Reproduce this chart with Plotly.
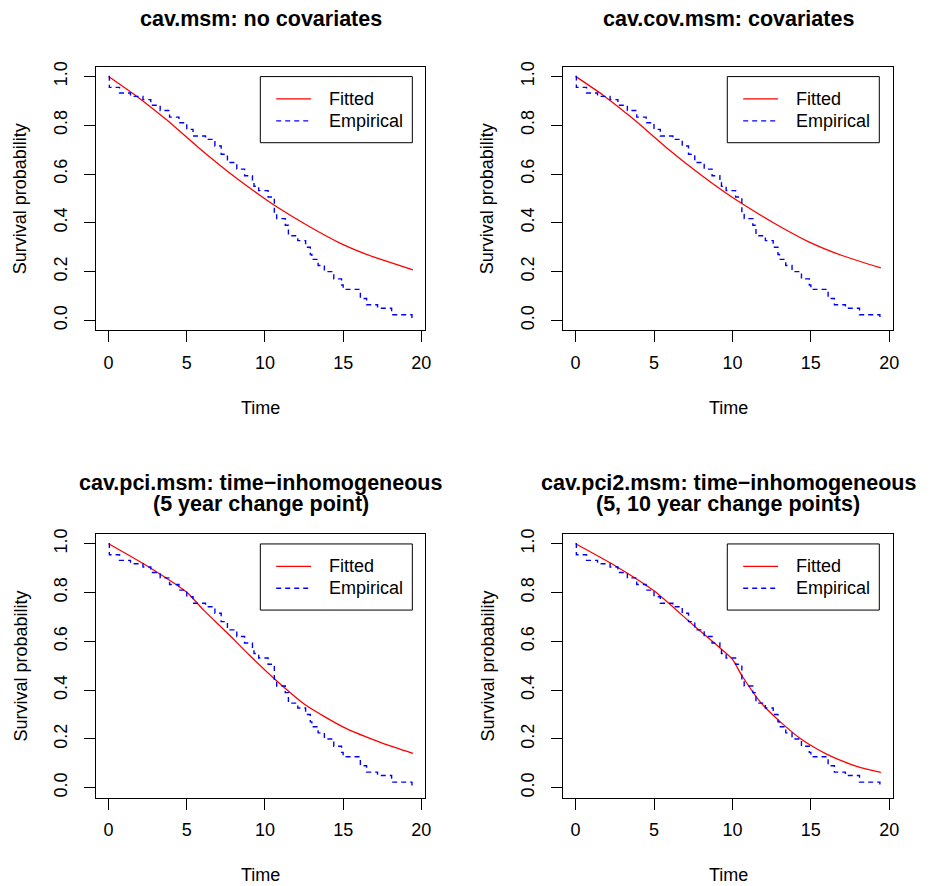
import plotly.graph_objects as go

W, H = 932, 886
FONT = "Liberation Sans, Arial, Helvetica, sans-serif"

# ---------------- data ----------------
# Empirical (Kaplan-Meier style) survival, shared by all panels
emp_time = [0.0, 0.05, 0.7, 1.4, 2.2, 2.7, 3.3, 3.9, 4.5, 5.0, 5.4, 6.2, 6.8, 7.2,
            7.6, 8.2, 8.7, 9.2, 9.3, 9.6, 10.2, 10.6, 10.75, 11.3, 11.5, 12.1,
            12.6, 12.9, 13.0, 13.4, 13.8, 14.4, 14.9, 15.0, 16.1, 16.5, 17.2,
            18.1, 19.4, 19.46]
emp_surv = [1.0, 0.955, 0.932, 0.918, 0.905, 0.882, 0.860, 0.833, 0.810, 0.783,
            0.756, 0.742, 0.715, 0.681, 0.647, 0.620, 0.593, 0.565, 0.550, 0.532,
            0.506, 0.440, 0.417, 0.390, 0.347, 0.327, 0.300, 0.270, 0.250, 0.225,
            0.200, 0.170, 0.145, 0.127, 0.090, 0.064, 0.050, 0.023, 0.003, 0.003]

# Fitted survival curves
fit1_t = [0, 1.75, 3.65, 5.76, 7.87, 9.56, 10.6, 12.72, 14.83, 16.94, 19.46]
fit1_s = [1.0, 0.921, 0.825, 0.708, 0.598, 0.518, 0.472, 0.389, 0.316, 0.260, 0.207]

fit2_t = [0, 1.75, 3.65, 5.76, 7.87, 9.56, 10.6, 12.72, 14.83, 16.94, 19.46]
fit2_s = [1.0, 0.923, 0.827, 0.710, 0.602, 0.523, 0.479, 0.396, 0.323, 0.267, 0.215]

fit3_t = [0, 2.49, 5.02, 6.08, 7.55, 9.03, 10.6, 12.6, 15.15, 17.5, 19.46]
fit3_s = [1.0, 0.908, 0.800, 0.728, 0.637, 0.542, 0.447, 0.339, 0.244, 0.183, 0.141]

fit4_t = [0, 2.49, 5.02, 7.55, 9.03, 9.98, 10.6, 11.77, 13.04, 14.3, 15.2, 16.0, 16.9, 17.68, 18.5, 19.46]
fit4_s = [1.0, 0.911, 0.806, 0.664, 0.583, 0.528, 0.460, 0.352, 0.271, 0.203, 0.166, 0.138, 0.112, 0.093, 0.077, 0.063]

titles = [
    ["cav.msm: no covariates"],
    ["cav.cov.msm: covariates"],
    ["cav.pci.msm: time\u2212inhomogeneous", "(5 year change point)"],
    ["cav.pci2.msm: time\u2212inhomogeneous", "(5, 10 year change points)"],
]
fits = [(fit1_t, fit1_s), (fit2_t, fit2_s), (fit3_t, fit3_s), (fit4_t, fit4_s)]

x_ticks = [0, 5, 10, 15, 20]
y_ticks = [0.0, 0.2, 0.4, 0.6, 0.8, 1.0]
y_tick_text = ["0.0", "0.2", "0.4", "0.6", "0.8", "1.0"]
legend_labels = ["Fitted", "Empirical"]

# ---------------- layout helpers ----------------
def px(x):
    return x / W

def py(y):
    return 1 - y / H

boxes = [(97, 428, 62, 327), (567, 899, 62, 327),
         (97, 428, 532, 797), (567, 899, 532, 797)]

fig = go.Figure()
shapes = []
annotations = []
layout = {}

for i in range(4):
    n = i + 1
    xa = "x" if n == 1 else f"x{n}"
    ya = "y" if n == 1 else f"y{n}"
    l, r, t, b = boxes[i]
    dx = l - 97
    dy = t - 62
    ft, fs = fits[i]
    fig.add_trace(go.Scatter(x=ft, y=fs, mode="lines",
                             line=dict(color="#FF0000", width=1.3, shape="spline", smoothing=0.6),
                             xaxis=xa, yaxis=ya, showlegend=False, hoverinfo="skip"))
    fig.add_trace(go.Scatter(x=emp_time, y=emp_surv, mode="lines",
                             line=dict(color="#0000FF", width=1.4, dash="5px,4px", shape="hv"),
                             xaxis=xa, yaxis=ya, showlegend=False, hoverinfo="skip"))
    common = dict(showline=True, mirror=True, linecolor="black", linewidth=1,
                  ticks="outside", ticklen=11, tickwidth=1, tickcolor="black",
                  showgrid=False, zeroline=False,
                  tickfont=dict(family=FONT, size=18, color="black"))
    layout["xaxis" if n == 1 else f"xaxis{n}"] = dict(
        domain=[px(l), px(r)], range=[-0.78, 20.25], tickvals=x_ticks,
        anchor=ya, ticklabelstandoff=5, **common)
    layout["yaxis" if n == 1 else f"yaxis{n}"] = dict(
        domain=[py(b), py(t)], range=[-0.04, 1.04], tickvals=y_ticks,
        ticktext=y_tick_text, tickangle=-90, anchor=xa, ticklabelstandoff=10, **common)

    cx = (l + r) / 2
    # titles
    if len(titles[i]) == 1:
        annotations.append(dict(text="<b>%s</b>" % titles[i][0], x=px(cx), y=py(14 + dy),
                                xref="paper", yref="paper", showarrow=False,
                                xanchor="center", yanchor="middle",
                                font=dict(family=FONT, size=21.5, color="black")))
    else:
        for k, line in enumerate(titles[i]):
            annotations.append(dict(text="<b>%s</b>" % line, x=px(cx), y=py(480.5 + 21 * k),
                                    xref="paper", yref="paper", showarrow=False,
                                    xanchor="center", yanchor="middle",
                                    font=dict(family=FONT, size=21.5, color="black")))
    # axis titles
    annotations.append(dict(text="Time", x=px(cx), y=py(405 + dy), xref="paper", yref="paper",
                            showarrow=False, xanchor="center", yanchor="middle",
                            font=dict(family=FONT, size=18, color="black")))
    annotations.append(dict(text="Survival probability", x=px(21 + dx), y=py((t + b) / 2),
                            xref="paper", yref="paper", showarrow=False, textangle=-90,
                            xanchor="center", yanchor="middle",
                            font=dict(family=FONT, size=18, color="black")))
    # legend box
    shapes.append(dict(type="rect", xref="paper", yref="paper",
                       x0=px(262 + dx), x1=px(415 + dx), y0=py(72 + dy), y1=py(138.5 + dy),
                       line=dict(color="black", width=1), fillcolor="white", layer="above"))
    shapes.append(dict(type="line", xref="paper", yref="paper",
                       x0=px(278 + dx), x1=px(313 + dx), y0=py(94.5 + dy), y1=py(94.5 + dy),
                       line=dict(color="#FF0000", width=1.3), layer="above"))
    shapes.append(dict(type="line", xref="paper", yref="paper",
                       x0=px(278 + dx), x1=px(313 + dx), y0=py(116.5 + dy), y1=py(116.5 + dy),
                       line=dict(color="#0000FF", width=1.4, dash="5px,4px"), layer="above"))
    for k, lab in enumerate(legend_labels):
        annotations.append(dict(text=lab, x=px(329 + dx), y=py(94.5 + 22 * k + dy),
                                xref="paper", yref="paper", showarrow=False,
                                xanchor="left", yanchor="middle",
                                font=dict(family=FONT, size=18, color="black")))

fig.update_layout(width=W, height=H, margin=dict(l=0, r=0, t=0, b=0),
                  paper_bgcolor="white", plot_bgcolor="white",
                  shapes=shapes, annotations=annotations, showlegend=False, **layout)

fig.write_html("out.html", config={"displayModeBar": False, "staticPlot": True},
               post_script="document.body.style.margin='0px';document.body.style.padding='0px';"
                           "document.documentElement.style.overflow='hidden';")
